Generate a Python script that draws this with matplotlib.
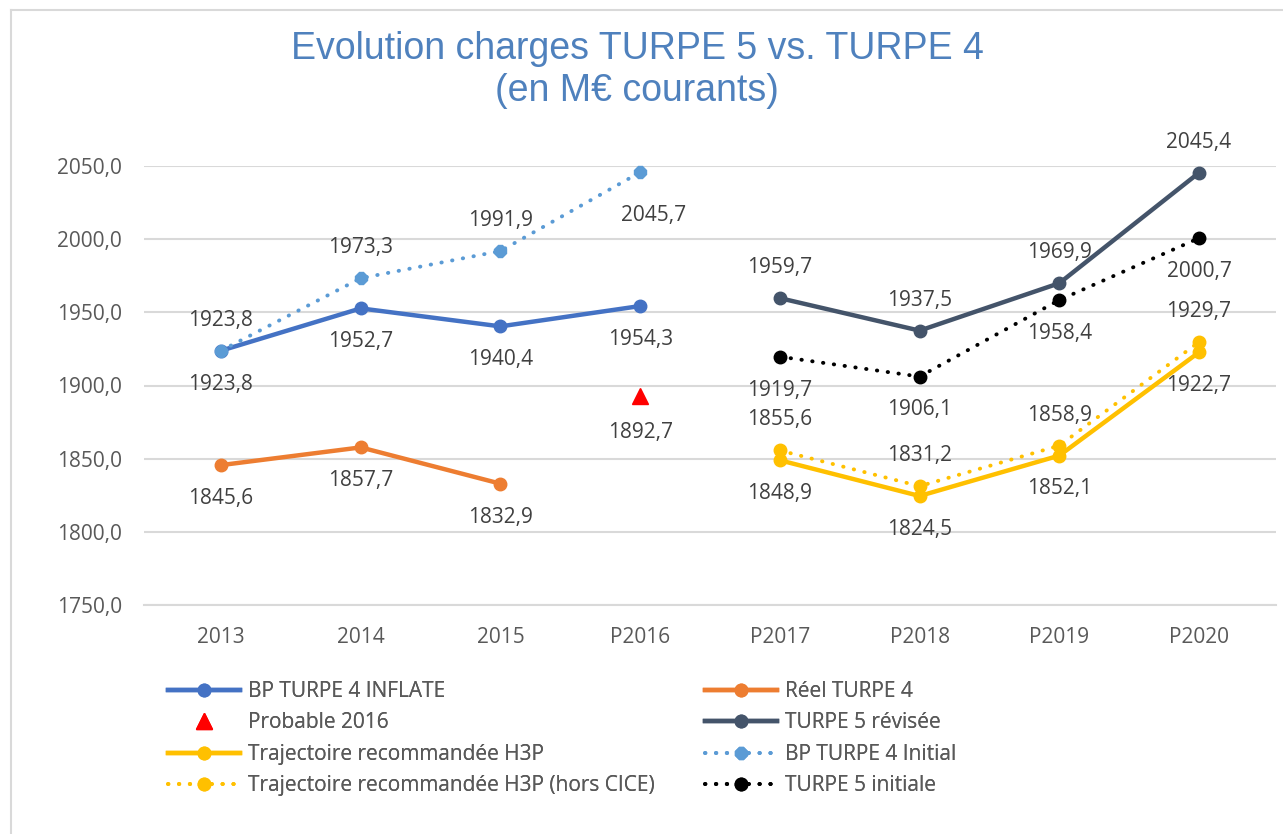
import matplotlib
matplotlib.use("Agg")
import matplotlib.pyplot as plt
from matplotlib.lines import Line2D
from matplotlib.ticker import FuncFormatter
import numpy as np

categories = ["2013", "2014", "2015", "P2016", "P2017", "P2018", "P2019", "P2020"]

bp_inflate = [1923.8, 1952.7, 1940.4, 1954.3, None, None, None, None]
reel_t4 = [1845.6, 1857.7, 1832.9, None, None, None, None, None]
probable_2016 = [None, None, None, 1892.7, None, None, None, None]
t5_revisee = [None, None, None, None, 1959.7, 1937.5, 1969.9, 2045.4]
h3p = [None, None, None, None, 1848.9, 1824.5, 1852.1, 1922.7]
h3p_hors_cice = [None, None, None, None, 1855.6, 1831.2, 1858.9, 1929.7]
bp_initial = [1923.8, 1973.3, 1991.9, 2045.7, None, None, None, None]
t5_initiale = [None, None, None, None, 1919.7, 1906.1, 1958.4, 2000.7]

y_ticks = [1750, 1800, 1850, 1900, 1950, 2000, 2050]

plt.rcParams['font.family'] = ['Open Sans', 'DejaVu Sans']

W, H = 1283, 834
fig = plt.figure(figsize=(W / 100, H / 100), dpi=100)
# partial frame (left and top edges visible)
fig.lines.append(Line2D([11 / W, 11 / W], [0, 1 - 10 / H], transform=fig.transFigure,
                        color="#D9D9D9", lw=1.5))
fig.lines.append(Line2D([11 / W, 1], [1 - 10 / H, 1 - 10 / H], transform=fig.transFigure,
                        color="#D9D9D9", lw=1.5))

ax_l, ax_r = 144, 1276
ax = fig.add_axes([ax_l / W, 1 - 605 / H, (ax_r - ax_l) / W, (605 - 166) / H])
x = np.arange(len(categories))
step = (1199 - 221) / 7.0


def arr(v):
    return np.array([np.nan if a is None else a for a in v], dtype=float)


lw = 3.2
dot = (0, (0.1, 2.7))
series = [
    (bp_inflate, dict(color="#4472C4", lw=lw, marker="o", ms=9), "BP TURPE 4 INFLATE", "below"),
    (reel_t4, dict(color="#ED7D31", lw=lw, marker="o", ms=9), "Réel TURPE 4", "below"),
    (probable_2016, dict(color="#FF0000", lw=0, marker="^", ms=11, linestyle="none"), "Probable 2016", "below"),
    (t5_revisee, dict(color="#44546A", lw=lw, marker="o", ms=9), "TURPE 5 révisée", "above"),
    (h3p, dict(color="#FFC000", lw=lw, marker="o", ms=9), "Trajectoire recommandée H3P", "below"),
    (bp_initial, dict(color="#5B9BD5", lw=2.8, marker="8", ms=9, linestyle=dot,
                      dash_capstyle="round"), "BP TURPE 4 Initial", "above"),
    (h3p_hors_cice, dict(color="#FFC000", lw=2.8, marker="o", ms=9, linestyle=dot,
                         dash_capstyle="round"), "Trajectoire recommandée H3P (hors CICE)", "above"),
    (t5_initiale, dict(color="#000000", lw=2.8, marker="o", ms=9, linestyle=dot,
                       dash_capstyle="round"), "TURPE 5 initiale", "below"),
]

handles = {}
for vals, kw, name, pos in series:
    y = arr(vals)
    h, = ax.plot(x, y, label=name, clip_on=False, zorder=3, **kw)
    handles[name] = h
    for xi, yi in zip(x, y):
        if np.isnan(yi):
            continue
        off = 22 if pos == "above" else -24
        dx = 0
        if name == "BP TURPE 4 Initial" and categories[xi] == "P2016":
            off, dx = -31, 10
        if name == "Probable 2016":
            off = -26
        ax.annotate(f"{yi:.1f}".replace(".", ","), (xi, yi), textcoords="offset points",
                    xytext=(dx, off), ha="center", va="center", fontsize=15, color="#404040")

ax.set_xlim(-(221 - ax_l) / step, 7 + (ax_r - 1199) / step)
ax.set_ylim(1750, 2050)
ax.set_yticks(y_ticks)
ax.yaxis.set_major_formatter(FuncFormatter(lambda v, p: f"{v:.1f}".replace(".", ",")))
ax.set_xticks(x)
ax.set_xticklabels(categories)
ax.tick_params(axis="both", length=0, labelsize=15, labelcolor="#595959")
ax.tick_params(axis="x", pad=16)
ax.tick_params(axis="y", pad=16)
ax.grid(axis="y", color="#D9D9D9", lw=1.5)
ax.set_axisbelow(True)
for s in ["top", "right", "left"]:
    ax.spines[s].set_visible(False)
ax.spines["bottom"].set_color("#D9D9D9")
ax.spines["bottom"].set_linewidth(1.5)

fig.text(637 / W, 1 - 70 / H, "Evolution charges TURPE 5 vs. TURPE 4\n(en M€ courants)",
         ha="center", va="center", fontsize=27, color="#4F81BD",
         family=["Liberation Sans Narrow", "Liberation Sans", "DejaVu Sans"], linespacing=1.2)

col1 = ["BP TURPE 4 INFLATE", "Probable 2016", "Trajectoire recommandée H3P",
        "Trajectoire recommandée H3P (hors CICE)"]
col2 = ["Réel TURPE 4", "TURPE 5 révisée", "BP TURPE 4 Initial", "TURPE 5 initiale"]
leg_kw = dict(loc="upper left", frameon=False, fontsize=15, handlelength=3.45,
              labelspacing=0.5, markerscale=1.0, handletextpad=0.4, borderpad=0,
              borderaxespad=0)
for names, x0 in [(col1, 168), (col2, 705)]:
    leg = fig.legend([handles[n] for n in names], names,
                     bbox_to_anchor=(x0 / W, 1 - 681 / H), **leg_kw)
    for t in leg.get_texts():
        t.set_color("#595959")
    fig.add_artist(leg)

fig.savefig("out.png", dpi=100, facecolor="white")
